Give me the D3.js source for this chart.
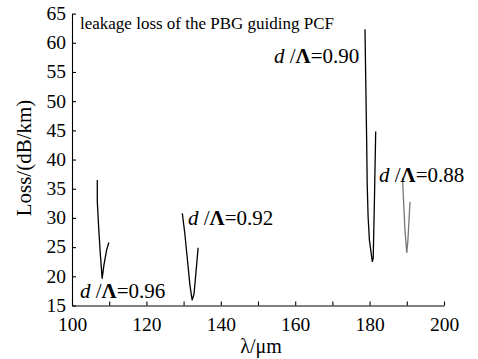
<!DOCTYPE html>
<html><head><meta charset="utf-8">
<script src="https://cdn.jsdelivr.net/npm/d3@7"></script>
<style>
html,body{margin:0;padding:0;background:#fff;}
svg{display:block;}
svg text{font-family:"Liberation Serif","Times New Roman",serif !important;fill:#000;}
</style></head>
<body><svg id="c" width="478" height="359"></svg>
<script>
// Data (wavelength in µm, loss in dB/km)
const curve096 = [[106.8,36.5],[106.8,32.8],[107.2,28.0],[107.6,24.0],[108.1,19.6],[108.6,22.0],[109.3,24.5],[109.9,25.8]];
const curve092 = [[129.65,30.8],[130.3,27.5],[131.0,23.0],[131.7,18.5],[132.3,15.9],[132.8,17.0],[133.3,20.5],[133.9,24.9]];
const curve090 = [[178.76,62.3],[179.2,43.7],[179.35,36.0],[179.6,30.2],[179.95,26.2],[180.73,22.5],[180.97,23.1],[181.3,33.1],[181.64,44.8]];
const curve088 = [[188.84,36.9],[189.5,27.9],[190.0,24.0],[190.3,26.2],[190.86,32.75]];
const seriesLabels = ["d /Λ=0.96","d /Λ=0.92","d /Λ=0.90","d /Λ=0.88"];
const xTicks = [100,110,120,130,140,150,160,170,180,190,200];
const xTickLabels = [100,120,140,160,180,200];
const yTicks = [15,20,25,30,35,40,45,50,55,60,65];
const titleText = "leakage loss of the PBG guiding PCF";

const svg = d3.select("#c");
const x = d3.scaleLinear().domain([100,200]).range([72,444]);
const y = d3.scaleLinear().domain([15,65]).range([305.5,13.6]);

// axes
const xAxis = d3.axisBottom(x).tickValues(xTicks).tickSizeInner(-4).tickSizeOuter(0)
  .tickFormat(d => xTickLabels.includes(d) ? d : "");
const gx = svg.append("g").attr("transform",`translate(0,${y(15)})`).call(xAxis);
const yAxis = d3.axisLeft(y).tickValues(yTicks).tickSizeInner(-4).tickSizeOuter(0);
const gy = svg.append("g").attr("transform",`translate(${x(100)},0)`).call(yAxis);
[gx,gy].forEach(g=>{
  g.attr("font-family",null).attr("font-size",null);
  g.selectAll("path,line").attr("stroke","#000").attr("stroke-width",1.1);
  g.selectAll("text").attr("font-size",19.5);
});
gx.selectAll("text").attr("dy","0").attr("y",25.5);
gy.selectAll("text").attr("x",-6).attr("dy","0.3em");

// axis titles
svg.append("text").attr("x",261).attr("y",353).attr("text-anchor","middle")
  .attr("font-size",20).text("λ/μm");
svg.append("text").attr("transform","translate(31,158) rotate(-90)").attr("text-anchor","middle")
  .attr("font-size",21).text("Loss/(dB/km)");

// title
svg.append("text").attr("x",80).attr("y",29).attr("font-size",17).text(titleText);

// curves
const line = d3.line().x(d=>x(d[0])).y(d=>y(d[1]));
const curves = [[curve096,"#000"],[curve092,"#000"],[curve090,"#000"],[curve088,"#777"]];
curves.forEach(([c,col])=>{
  svg.append("path").datum(c).attr("d",line).attr("fill","none").attr("stroke",col).attr("stroke-width",1.3);
});

// labels
const labelPos = [[80,298],[188,225],[274,63],[379,182]];
seriesLabels.forEach((s,i)=>{
  const t = svg.append("text").attr("x",labelPos[i][0]).attr("y",labelPos[i][1]).attr("font-size",21);
  const m = s.match(/^d (\/)(Λ)(=.*)$/);
  t.append("tspan").attr("font-style","italic").text("d");
  t.append("tspan").text(" /");
  t.append("tspan").attr("font-weight","bold").text("Λ");
  t.append("tspan").text(m[3]);
});
</script></body></html>
